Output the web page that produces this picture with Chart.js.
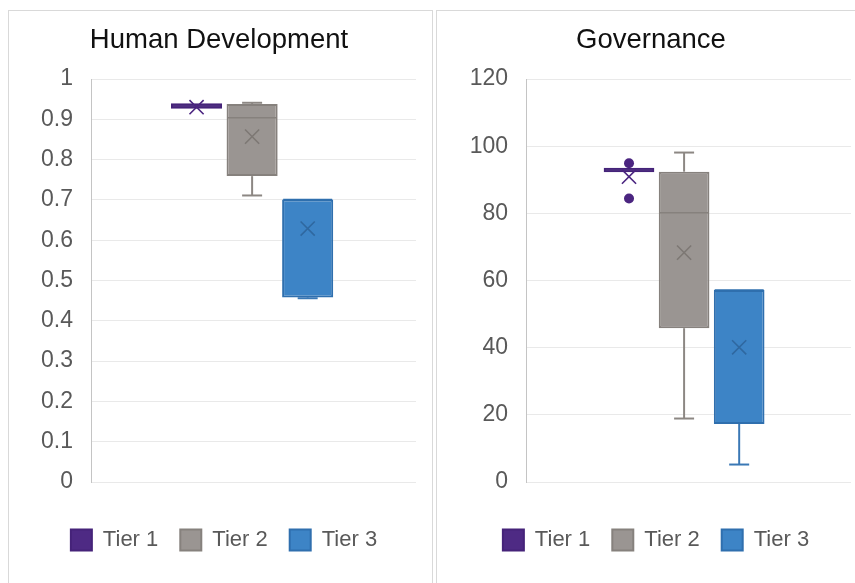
<!DOCTYPE html>
<html lang="en">
<head>
<meta charset="UTF-8">
<title>Human Development / Governance</title>
<script src="https://cdn.jsdelivr.net/npm/chart.js"></script>
<style>
  html, body { margin: 0; padding: 0; background: #fff; }
  body { width: 855px; height: 583px; overflow: hidden; position: relative; }
  .panel { position: absolute; top: 10px; height: 600px; border: 1px solid #d9d9d9; box-sizing: border-box; }
  canvas { position: absolute; top: 11px; }
</style>
</head>
<body>
<div class="panel" style="left:8px; width:425px;"></div>
<div class="panel" style="left:436px; width:500px;"></div>
<canvas id="hdChart" width="423" height="572" style="left:9px;"></canvas>
<canvas id="govChart" width="430" height="572" style="left:438px;"></canvas>

<script>
// categories
const tiers = ['Tier 1', 'Tier 2', 'Tier 3'];

// Human Development box stats (per tier)
const hdMin    = [0.926, 0.711, 0.456];
const hdQ1     = [0.926, 0.759, 0.458];
const hdMedian = [0.933, 0.904, 0.701];
const hdQ3     = [0.940, 0.938, 0.701];
const hdMax    = [0.940, 0.941, 0.701];
const hdMean   = [0.930, 0.857, 0.629];
const hdOutliers = [[], [], []];
const hdTicks = ['0', '0.1', '0.2', '0.3', '0.4', '0.5', '0.6', '0.7', '0.8', '0.9', '1'];

// Governance box stats (per tier)
const govMin    = [92.2, 18.9, 5.2];
const govQ1     = [92.2, 45.8, 17.3];
const govMedian = [92.9, 80.2, 57.2];
const govQ3     = [93.6, 92.4, 57.2];
const govMax    = [93.6, 98.1, 57.2];
const govMean   = [90.9, 68.3, 40.1];
const govOutliers = [[94.9, 84.4], [], []];
const govTicks = ['0', '20', '40', '60', '80', '100', '120'];

const fills   = ['#4e2a84', '#9a9592', '#3d84c6'];
const borders = ['#452379', '#86817d', '#2f6fae'];
const lines   = ['#4b2580', '#8c8783', '#3a78b5'];
const marks   = ['#4b2580', '#7d7874', '#2f68a0'];

const FONT = "'Liberation Sans', Arial, sans-serif";

// nudge the legend a little to the right, like the original layout
const legendNudge = {
  id: 'legendNudge',
  afterLayout(chart) {
    if (chart.legend) { chart.legend.left += 5; chart.legend.right += 5; }
  }
};

function buildDatasets(s) {
  const pts = [], boxes = [], whiskers = [];
  tiers.forEach((t, i) => {
    const x = i + 1;
    // mean marker
    pts.push({
      type: 'scatter', label: '', data: [{x: x, y: s.mean[i]}],
      pointStyle: 'crossRot', pointRadius: 10, pointBorderWidth: 1.6,
      pointBorderColor: marks[i], pointBackgroundColor: marks[i]
    });
    // outliers
    if (s.out[i].length) {
      pts.push({
        type: 'scatter', label: '', data: s.out[i].map(v => ({x: x, y: v})),
        pointStyle: 'circle', pointRadius: 5, pointBorderWidth: 0,
        pointBackgroundColor: lines[i]
      });
    }
    // median line
    pts.push({
      type: 'scatter', label: '', data: [{x: x, y: s.median[i]}],
      pointStyle: 'line', pointRadius: 24.5, pointBorderWidth: 1.5,
      pointBorderColor: borders[i]
    });
    // whisker caps
    const caps = [];
    if (s.min[i] < s.q1[i]) caps.push({x: x, y: s.min[i]});
    if (s.max[i] > s.q3[i]) caps.push({x: x, y: s.max[i]});
    if (caps.length) {
      pts.push({
        type: 'scatter', label: '', data: caps,
        pointStyle: 'line', pointRadius: 10, pointBorderWidth: 2,
        pointBorderColor: lines[i]
      });
    }
    // box
    boxes.push({
      type: 'bar', label: t, isBox: true,
      data: [{x: x, y: [s.q1[i], s.q3[i]]}],
      backgroundColor: fills[i], borderColor: borders[i], borderWidth: 2,
      borderSkipped: false, grouped: false,
      barPercentage: 0.92, categoryPercentage: 1
    });
    // whisker stems
    whiskers.push({
      type: 'bar', label: '',
      data: [{x: x, y: [s.min[i], s.q1[i]]}, {x: x, y: [s.q3[i], s.max[i]]}],
      backgroundColor: lines[i], borderWidth: 0, grouped: false,
      barPercentage: 0.036, categoryPercentage: 1
    });
  });
  return pts.concat(boxes, whiskers);
}

function makeChart(id, title, stats, yMax, yStep, tickLabels, axisWidth, padRight, xMin, xMax) {
  return new Chart(document.getElementById(id), {
    type: 'bar',
    data: { datasets: buildDatasets(stats) },
    plugins: [legendNudge],
    options: {
      responsive: false,
      animation: false,
      events: [],
      layout: { autoPadding: false, padding: { left: 13, right: padRight, top: 0, bottom: 22 } },
      scales: {
        x: {
          type: 'linear', min: xMin, max: xMax, offset: false,
          ticks: { display: false, stepSize: 1, includeBounds: false },
          grid: { display: false },
          border: { display: false },
          afterFit: s => { s.height = 25; }
        },
        y: {
          stacked: false,
          min: 0, max: yMax,
          ticks: {
            stepSize: yStep, padding: 18,
            color: '#595959', font: { family: FONT, size: 23 },
            callback: (v, i) => tickLabels[i]
          },
          grid: { color: '#e9e9e9', lineWidth: 1, drawTicks: false },
          border: { display: true, color: '#c4c4c4', width: 1 },
          afterFit: s => { s.width = axisWidth; }
        }
      },
      plugins: {
        title: {
          display: true, text: title, color: '#111',
          font: { family: FONT, size: 27.5, weight: 'normal' },
          padding: { top: 12.5, bottom: 22.5 }
        },
        legend: {
          position: 'bottom',
          labels: {
            boxWidth: 21, boxHeight: 21, padding: 22,
            color: '#595959', font: { family: FONT, size: 22 },
            filter: (item, data) => data.datasets[item.datasetIndex].isBox
          }
        },
        tooltip: { enabled: false }
      }
    }
  });
}

makeChart('hdChart', 'Human Development',
  { min: hdMin, q1: hdQ1, median: hdMedian, q3: hdQ3, max: hdMax, mean: hdMean, out: hdOutliers },
  1, 0.1, hdTicks, 69, 16, -0.9, 4.95);

makeChart('govChart', 'Governance',
  { min: govMin, q1: govQ1, median: govMedian, q3: govQ3, max: govMax, mean: govMean, out: govOutliers },
  120, 20, govTicks, 75, 17, -0.87, 5.03);
</script>
</body>
</html>
